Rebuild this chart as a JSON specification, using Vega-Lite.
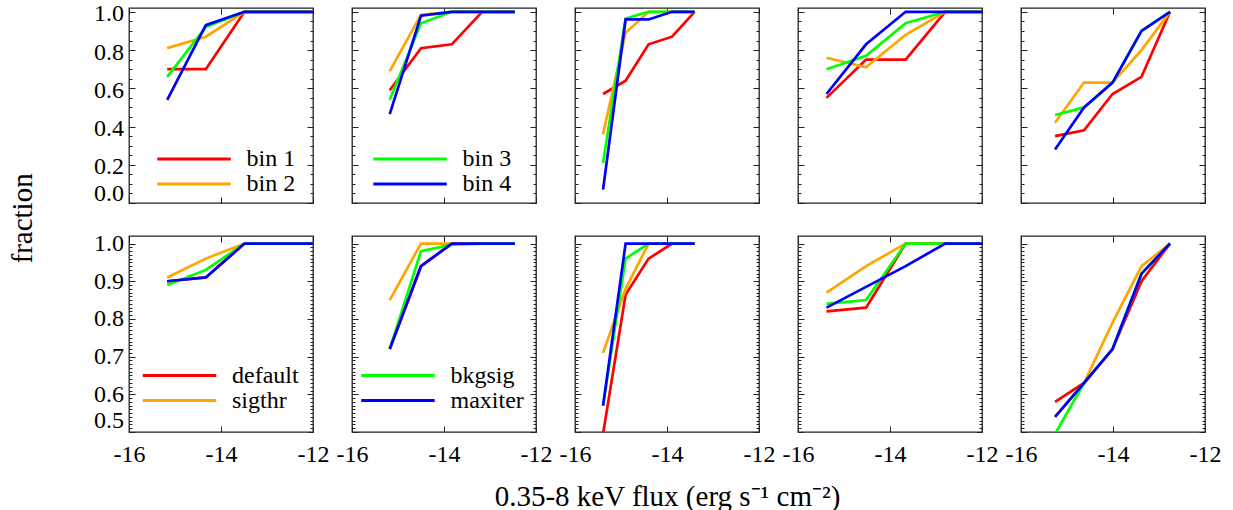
{
 "$schema": "https://vega.github.io/schema/vega-lite/v6.json",
 "background": "white",
 "padding": {"left": 8, "top": 1, "right": 5, "bottom": 0},
 "title": {"text": "fraction", "orient": "left", "anchor": "middle", "font": "Liberation Serif", "fontSize": 29, "fontWeight": "normal", "color": "black", "offset": 55, "dx": 38},
 "datasets": {"d": [
  {"p":1,"s":"bin 1","x":-15.17,"y":0.7},{"p":1,"s":"bin 1","x":-14.33,"y":0.7},{"p":1,"s":"bin 1","x":-13.49,"y":1},{"p":1,"s":"bin 1","x":-12.65,"y":1},{"p":1,"s":"bin 1","x":-11.81,"y":1},
  {"p":1,"s":"bin 2","x":-15.17,"y":0.81},{"p":1,"s":"bin 2","x":-14.33,"y":0.87},{"p":1,"s":"bin 2","x":-13.49,"y":1},{"p":1,"s":"bin 2","x":-12.65,"y":1},{"p":1,"s":"bin 2","x":-11.81,"y":1},
  {"p":1,"s":"bin 3","x":-15.17,"y":0.66},{"p":1,"s":"bin 3","x":-14.33,"y":0.92},{"p":1,"s":"bin 3","x":-13.49,"y":1},{"p":1,"s":"bin 3","x":-12.65,"y":1},{"p":1,"s":"bin 3","x":-11.81,"y":1},
  {"p":1,"s":"bin 4","x":-15.17,"y":0.54},{"p":1,"s":"bin 4","x":-14.33,"y":0.93},{"p":1,"s":"bin 4","x":-13.49,"y":1},{"p":1,"s":"bin 4","x":-12.65,"y":1},{"p":1,"s":"bin 4","x":-11.81,"y":1},

  {"p":2,"s":"bin 1","x":-15.18,"y":0.59},{"p":2,"s":"bin 1","x":-14.5,"y":0.81},{"p":2,"s":"bin 1","x":-13.83,"y":0.83},{"p":2,"s":"bin 1","x":-13.17,"y":1},{"p":2,"s":"bin 1","x":-12.46,"y":1},
  {"p":2,"s":"bin 2","x":-15.18,"y":0.69},{"p":2,"s":"bin 2","x":-14.5,"y":0.985},{"p":2,"s":"bin 2","x":-13.83,"y":1},{"p":2,"s":"bin 2","x":-13.17,"y":1},{"p":2,"s":"bin 2","x":-12.46,"y":1},
  {"p":2,"s":"bin 3","x":-15.18,"y":0.54},{"p":2,"s":"bin 3","x":-14.5,"y":0.94},{"p":2,"s":"bin 3","x":-13.83,"y":1},{"p":2,"s":"bin 3","x":-13.17,"y":1},{"p":2,"s":"bin 3","x":-12.46,"y":1},
  {"p":2,"s":"bin 4","x":-15.18,"y":0.465},{"p":2,"s":"bin 4","x":-14.5,"y":0.98},{"p":2,"s":"bin 4","x":-13.83,"y":1},{"p":2,"s":"bin 4","x":-13.17,"y":1},{"p":2,"s":"bin 4","x":-12.46,"y":1},

  {"p":3,"s":"bin 1","x":-15.39,"y":0.57},{"p":3,"s":"bin 1","x":-14.9,"y":0.64},{"p":3,"s":"bin 1","x":-14.4,"y":0.83},{"p":3,"s":"bin 1","x":-13.89,"y":0.87},{"p":3,"s":"bin 1","x":-13.4,"y":1},
  {"p":3,"s":"bin 2","x":-15.39,"y":0.36},{"p":3,"s":"bin 2","x":-14.9,"y":0.89},{"p":3,"s":"bin 2","x":-14.4,"y":1},{"p":3,"s":"bin 2","x":-13.89,"y":1},{"p":3,"s":"bin 2","x":-13.4,"y":1},
  {"p":3,"s":"bin 3","x":-15.39,"y":0.21},{"p":3,"s":"bin 3","x":-14.9,"y":0.965},{"p":3,"s":"bin 3","x":-14.4,"y":1},{"p":3,"s":"bin 3","x":-13.89,"y":1},{"p":3,"s":"bin 3","x":-13.4,"y":1},
  {"p":3,"s":"bin 4","x":-15.39,"y":0.07},{"p":3,"s":"bin 4","x":-14.9,"y":0.96},{"p":3,"s":"bin 4","x":-14.4,"y":0.96},{"p":3,"s":"bin 4","x":-13.89,"y":1},{"p":3,"s":"bin 4","x":-13.4,"y":1},

  {"p":4,"s":"bin 1","x":-15.38,"y":0.55},{"p":4,"s":"bin 1","x":-14.52,"y":0.75},{"p":4,"s":"bin 1","x":-13.66,"y":0.75},{"p":4,"s":"bin 1","x":-12.8,"y":1},{"p":4,"s":"bin 1","x":-11.94,"y":1},
  {"p":4,"s":"bin 2","x":-15.38,"y":0.76},{"p":4,"s":"bin 2","x":-14.52,"y":0.71},{"p":4,"s":"bin 2","x":-13.66,"y":0.88},{"p":4,"s":"bin 2","x":-12.8,"y":1},{"p":4,"s":"bin 2","x":-11.94,"y":1},
  {"p":4,"s":"bin 3","x":-15.38,"y":0.7},{"p":4,"s":"bin 3","x":-14.52,"y":0.77},{"p":4,"s":"bin 3","x":-13.66,"y":0.94},{"p":4,"s":"bin 3","x":-12.8,"y":1},{"p":4,"s":"bin 3","x":-11.94,"y":1},
  {"p":4,"s":"bin 4","x":-15.38,"y":0.57},{"p":4,"s":"bin 4","x":-14.52,"y":0.83},{"p":4,"s":"bin 4","x":-13.66,"y":1},{"p":4,"s":"bin 4","x":-12.8,"y":1},{"p":4,"s":"bin 4","x":-11.94,"y":1},

  {"p":5,"s":"bin 1","x":-15.26,"y":0.35},{"p":5,"s":"bin 1","x":-14.63,"y":0.38},{"p":5,"s":"bin 1","x":-14.01,"y":0.57},{"p":5,"s":"bin 1","x":-13.38,"y":0.66},{"p":5,"s":"bin 1","x":-12.76,"y":1},
  {"p":5,"s":"bin 2","x":-15.26,"y":0.42},{"p":5,"s":"bin 2","x":-14.63,"y":0.63},{"p":5,"s":"bin 2","x":-14.01,"y":0.63},{"p":5,"s":"bin 2","x":-13.38,"y":0.8},{"p":5,"s":"bin 2","x":-12.76,"y":1},
  {"p":5,"s":"bin 3","x":-15.26,"y":0.46},{"p":5,"s":"bin 3","x":-14.63,"y":0.5},{"p":5,"s":"bin 3","x":-14.01,"y":0.63},{"p":5,"s":"bin 3","x":-13.38,"y":0.9},{"p":5,"s":"bin 3","x":-12.76,"y":1},
  {"p":5,"s":"bin 4","x":-15.26,"y":0.28},{"p":5,"s":"bin 4","x":-14.63,"y":0.5},{"p":5,"s":"bin 4","x":-14.01,"y":0.63},{"p":5,"s":"bin 4","x":-13.38,"y":0.9},{"p":5,"s":"bin 4","x":-12.76,"y":1},

  {"p":6,"s":"default","x":-15.17,"y":0.9},{"p":6,"s":"default","x":-14.33,"y":0.91},{"p":6,"s":"default","x":-13.49,"y":1},{"p":6,"s":"default","x":-12.65,"y":1},{"p":6,"s":"default","x":-11.81,"y":1},
  {"p":6,"s":"sigthr","x":-15.17,"y":0.91},{"p":6,"s":"sigthr","x":-14.33,"y":0.96},{"p":6,"s":"sigthr","x":-13.49,"y":1},{"p":6,"s":"sigthr","x":-12.65,"y":1},{"p":6,"s":"sigthr","x":-11.81,"y":1},
  {"p":6,"s":"bkgsig","x":-15.17,"y":0.89},{"p":6,"s":"bkgsig","x":-14.33,"y":0.93},{"p":6,"s":"bkgsig","x":-13.49,"y":1},{"p":6,"s":"bkgsig","x":-12.65,"y":1},{"p":6,"s":"bkgsig","x":-11.81,"y":1},
  {"p":6,"s":"maxiter","x":-15.17,"y":0.9},{"p":6,"s":"maxiter","x":-14.33,"y":0.91},{"p":6,"s":"maxiter","x":-13.49,"y":1},{"p":6,"s":"maxiter","x":-12.65,"y":1},{"p":6,"s":"maxiter","x":-11.81,"y":1},

  {"p":7,"s":"default","x":-15.18,"y":0.72},{"p":7,"s":"default","x":-14.5,"y":0.94},{"p":7,"s":"default","x":-13.83,"y":1},{"p":7,"s":"default","x":-13.17,"y":1},{"p":7,"s":"default","x":-12.46,"y":1},
  {"p":7,"s":"sigthr","x":-15.18,"y":0.85},{"p":7,"s":"sigthr","x":-14.5,"y":1},{"p":7,"s":"sigthr","x":-13.83,"y":1},{"p":7,"s":"sigthr","x":-13.17,"y":1},{"p":7,"s":"sigthr","x":-12.46,"y":1},
  {"p":7,"s":"bkgsig","x":-15.18,"y":0.72},{"p":7,"s":"bkgsig","x":-14.5,"y":0.98},{"p":7,"s":"bkgsig","x":-13.83,"y":0.997},{"p":7,"s":"bkgsig","x":-13.17,"y":1},{"p":7,"s":"bkgsig","x":-12.46,"y":1},
  {"p":7,"s":"maxiter","x":-15.18,"y":0.72},{"p":7,"s":"maxiter","x":-14.5,"y":0.94},{"p":7,"s":"maxiter","x":-13.83,"y":1},{"p":7,"s":"maxiter","x":-13.17,"y":1},{"p":7,"s":"maxiter","x":-12.46,"y":1},

  {"p":8,"s":"default","x":-15.39,"y":0.495},{"p":8,"s":"default","x":-14.9,"y":0.865},{"p":8,"s":"default","x":-14.4,"y":0.96},{"p":8,"s":"default","x":-13.89,"y":1},{"p":8,"s":"default","x":-13.4,"y":1},
  {"p":8,"s":"sigthr","x":-15.39,"y":0.71},{"p":8,"s":"sigthr","x":-14.9,"y":0.88},{"p":8,"s":"sigthr","x":-14.4,"y":1},{"p":8,"s":"sigthr","x":-13.89,"y":1},{"p":8,"s":"sigthr","x":-13.4,"y":1},
  {"p":8,"s":"bkgsig","x":-15.39,"y":0.57},{"p":8,"s":"bkgsig","x":-14.9,"y":0.96},{"p":8,"s":"bkgsig","x":-14.4,"y":1},{"p":8,"s":"bkgsig","x":-13.89,"y":1},{"p":8,"s":"bkgsig","x":-13.4,"y":1},
  {"p":8,"s":"maxiter","x":-15.39,"y":0.57},{"p":8,"s":"maxiter","x":-14.9,"y":1},{"p":8,"s":"maxiter","x":-14.4,"y":1},{"p":8,"s":"maxiter","x":-13.89,"y":1},{"p":8,"s":"maxiter","x":-13.4,"y":1},

  {"p":9,"s":"default","x":-15.38,"y":0.82},{"p":9,"s":"default","x":-14.52,"y":0.83},{"p":9,"s":"default","x":-13.66,"y":1},{"p":9,"s":"default","x":-12.8,"y":1},{"p":9,"s":"default","x":-11.94,"y":1},
  {"p":9,"s":"sigthr","x":-15.38,"y":0.87},{"p":9,"s":"sigthr","x":-14.52,"y":0.94},{"p":9,"s":"sigthr","x":-13.66,"y":1},{"p":9,"s":"sigthr","x":-12.8,"y":1},{"p":9,"s":"sigthr","x":-11.94,"y":1},
  {"p":9,"s":"bkgsig","x":-15.38,"y":0.84},{"p":9,"s":"bkgsig","x":-14.52,"y":0.85},{"p":9,"s":"bkgsig","x":-13.66,"y":1},{"p":9,"s":"bkgsig","x":-12.8,"y":1},{"p":9,"s":"bkgsig","x":-11.94,"y":1},
  {"p":9,"s":"maxiter","x":-15.38,"y":0.83},{"p":9,"s":"maxiter","x":-14.52,"y":0.885},{"p":9,"s":"maxiter","x":-13.66,"y":0.94},{"p":9,"s":"maxiter","x":-12.8,"y":1},{"p":9,"s":"maxiter","x":-11.94,"y":1},

  {"p":10,"s":"default","x":-15.26,"y":0.58},{"p":10,"s":"default","x":-14.63,"y":0.63},{"p":10,"s":"default","x":-14.01,"y":0.72},{"p":10,"s":"default","x":-13.38,"y":0.9},{"p":10,"s":"default","x":-12.76,"y":1},
  {"p":10,"s":"sigthr","x":-15.26,"y":0.54},{"p":10,"s":"sigthr","x":-14.63,"y":0.63},{"p":10,"s":"sigthr","x":-14.01,"y":0.79},{"p":10,"s":"sigthr","x":-13.38,"y":0.94},{"p":10,"s":"sigthr","x":-12.76,"y":1},
  {"p":10,"s":"bkgsig","x":-15.26,"y":0.495},{"p":10,"s":"bkgsig","x":-14.63,"y":0.63},{"p":10,"s":"bkgsig","x":-14.01,"y":0.72},{"p":10,"s":"bkgsig","x":-13.38,"y":0.92},{"p":10,"s":"bkgsig","x":-12.76,"y":1},
  {"p":10,"s":"maxiter","x":-15.26,"y":0.54},{"p":10,"s":"maxiter","x":-14.63,"y":0.63},{"p":10,"s":"maxiter","x":-14.01,"y":0.72},{"p":10,"s":"maxiter","x":-13.38,"y":0.92},{"p":10,"s":"maxiter","x":-12.76,"y":1}
 ]},
 "data": {"name": "d"},
 "config": {
  "font": "Liberation Serif",
  "view": {"stroke": "#222", "strokeWidth": 1.3},
  "axis": {"domain": false, "grid": false, "tickColor": "#222", "tickWidth": 1, "labelFont": "Liberation Serif", "labelFontSize": 24, "labelColor": "black", "labelFlush": false, "labelOverlap": false, "titleFont": "Liberation Serif", "titleFontSize": 29, "titleFontWeight": "normal", "titleColor": "black"},
  "legend": {"title": null, "orient": "none", "symbolType": "stroke", "symbolSize": 5402, "symbolStrokeWidth": 3, "labelFont": "Liberation Serif", "labelFontSize": 24, "labelColor": "black", "labelOffset": 14, "rowPadding": 0, "padding": 0, "clipHeight": 25}
 },
 "spacing": 21,
 "resolve": {"legend": {"color": "independent"}},
 "vconcat": [
  {"spacing": 39, "bounds": "flush", "resolve": {"legend": {"color": "independent"}}, "hconcat": [
   {"width":184,"height":195,"transform":[{"filter":"datum.p==1"}],
    "layer":[
     {"mark":{"type":"line","clip":true,"strokeWidth":2.7},
      "encoding":{
       "x":{"field":"x","type":"quantitative","scale":{"domain":[-16,-12],"nice":false,"zero":false},"axis":{"values":[-16,-14,-12],"tickSize":-6,"labels":false,"title":null}},
       "y":{"field":"y","type":"quantitative","scale":{"domain":[0,1.02],"nice":false,"zero":false},"axis":{"values":[0,0.05,0.1,0.15,0.2,0.25,0.3,0.35,0.4,0.45,0.5,0.55,0.6,0.65,0.7,0.75,0.8,0.85,0.9,0.95,1],"tickSize":{"condition":{"test":"abs(datum.value*5-round(datum.value*5))<0.001","value":-6},"value":-3},"labelExpr":"abs(datum.value*5-round(datum.value*5))<0.001 ? format(datum.value,'.1f') : ''","labelPadding":11.5,"labelFlush":true,"labelOffset":2,"title":null}},
       "color":{"field":"s","type":"nominal","scale":{"domain":["bin 1","bin 2","bin 3","bin 4","default","sigthr","bkgsig","maxiter"],"range":["#ff0000","#ffa500","#00ff00","#0000ff","#ff0000","#ffa500","#00ff00","#0000ff"]},"legend":{"values":["bin 1","bin 2"],"legendX":26.5,"legendY":138.5}}}},
     {"mark":{"type":"point","opacity":0},
      "encoding":{
       "x":{"field":"x","type":"quantitative","scale":{"domain":[-16,-12],"nice":false,"zero":false},"axis":{"orient":"top","values":[-16,-14,-12],"tickSize":-6,"labels":false,"title":null}},
       "y":{"field":"y","type":"quantitative","scale":{"domain":[0,1.02],"nice":false,"zero":false},"axis":{"orient":"right","values":[0,0.05,0.1,0.15,0.2,0.25,0.3,0.35,0.4,0.45,0.5,0.55,0.6,0.65,0.7,0.75,0.8,0.85,0.9,0.95,1],"tickSize":{"condition":{"test":"abs(datum.value*5-round(datum.value*5))<0.001","value":-6},"value":-3},"labels":false,"title":null}}}}
    ],
    "resolve":{"scale":{"x":"independent","y":"independent"}}},
   {"width":184,"height":195,"transform":[{"filter":"datum.p==2"}],
    "layer":[
     {"mark":{"type":"line","clip":true,"strokeWidth":2.7},
      "encoding":{
       "x":{"field":"x","type":"quantitative","scale":{"domain":[-16,-12],"nice":false,"zero":false},"axis":{"values":[-16,-14,-12],"tickSize":-6,"labels":false,"title":null}},
       "y":{"field":"y","type":"quantitative","scale":{"domain":[0,1.02],"nice":false,"zero":false},"axis":{"values":[0,0.05,0.1,0.15,0.2,0.25,0.3,0.35,0.4,0.45,0.5,0.55,0.6,0.65,0.7,0.75,0.8,0.85,0.9,0.95,1],"tickSize":{"condition":{"test":"abs(datum.value*5-round(datum.value*5))<0.001","value":-6},"value":-3},"labels":false,"title":null}},
       "color":{"field":"s","type":"nominal","legend":{"values":["bin 3","bin 4"],"legendX":19.5,"legendY":138.5}}}},
     {"mark":{"type":"point","opacity":0},
      "encoding":{
       "x":{"field":"x","type":"quantitative","scale":{"domain":[-16,-12],"nice":false,"zero":false},"axis":{"orient":"top","values":[-16,-14,-12],"tickSize":-6,"labels":false,"title":null}},
       "y":{"field":"y","type":"quantitative","scale":{"domain":[0,1.02],"nice":false,"zero":false},"axis":{"orient":"right","values":[0,0.05,0.1,0.15,0.2,0.25,0.3,0.35,0.4,0.45,0.5,0.55,0.6,0.65,0.7,0.75,0.8,0.85,0.9,0.95,1],"tickSize":{"condition":{"test":"abs(datum.value*5-round(datum.value*5))<0.001","value":-6},"value":-3},"labels":false,"title":null}}}}
    ],
    "resolve":{"scale":{"x":"independent","y":"independent"}}},
   {"width":184,"height":195,"transform":[{"filter":"datum.p==3"}],
    "layer":[
     {"mark":{"type":"line","clip":true,"strokeWidth":2.7},
      "encoding":{
       "x":{"field":"x","type":"quantitative","scale":{"domain":[-16,-12],"nice":false,"zero":false},"axis":{"values":[-16,-14,-12],"tickSize":-6,"labels":false,"title":null}},
       "y":{"field":"y","type":"quantitative","scale":{"domain":[0,1.02],"nice":false,"zero":false},"axis":{"values":[0,0.05,0.1,0.15,0.2,0.25,0.3,0.35,0.4,0.45,0.5,0.55,0.6,0.65,0.7,0.75,0.8,0.85,0.9,0.95,1],"tickSize":{"condition":{"test":"abs(datum.value*5-round(datum.value*5))<0.001","value":-6},"value":-3},"labels":false,"title":null}},
       "color":{"field":"s","type":"nominal","legend":null}}},
     {"mark":{"type":"point","opacity":0},
      "encoding":{
       "x":{"field":"x","type":"quantitative","scale":{"domain":[-16,-12],"nice":false,"zero":false},"axis":{"orient":"top","values":[-16,-14,-12],"tickSize":-6,"labels":false,"title":null}},
       "y":{"field":"y","type":"quantitative","scale":{"domain":[0,1.02],"nice":false,"zero":false},"axis":{"orient":"right","values":[0,0.05,0.1,0.15,0.2,0.25,0.3,0.35,0.4,0.45,0.5,0.55,0.6,0.65,0.7,0.75,0.8,0.85,0.9,0.95,1],"tickSize":{"condition":{"test":"abs(datum.value*5-round(datum.value*5))<0.001","value":-6},"value":-3},"labels":false,"title":null}}}}
    ],
    "resolve":{"scale":{"x":"independent","y":"independent"}}},
   {"width":184,"height":195,"transform":[{"filter":"datum.p==4"}],
    "layer":[
     {"mark":{"type":"line","clip":true,"strokeWidth":2.7},
      "encoding":{
       "x":{"field":"x","type":"quantitative","scale":{"domain":[-16,-12],"nice":false,"zero":false},"axis":{"values":[-16,-14,-12],"tickSize":-6,"labels":false,"title":null}},
       "y":{"field":"y","type":"quantitative","scale":{"domain":[0,1.02],"nice":false,"zero":false},"axis":{"values":[0,0.05,0.1,0.15,0.2,0.25,0.3,0.35,0.4,0.45,0.5,0.55,0.6,0.65,0.7,0.75,0.8,0.85,0.9,0.95,1],"tickSize":{"condition":{"test":"abs(datum.value*5-round(datum.value*5))<0.001","value":-6},"value":-3},"labels":false,"title":null}},
       "color":{"field":"s","type":"nominal","legend":null}}},
     {"mark":{"type":"point","opacity":0},
      "encoding":{
       "x":{"field":"x","type":"quantitative","scale":{"domain":[-16,-12],"nice":false,"zero":false},"axis":{"orient":"top","values":[-16,-14,-12],"tickSize":-6,"labels":false,"title":null}},
       "y":{"field":"y","type":"quantitative","scale":{"domain":[0,1.02],"nice":false,"zero":false},"axis":{"orient":"right","values":[0,0.05,0.1,0.15,0.2,0.25,0.3,0.35,0.4,0.45,0.5,0.55,0.6,0.65,0.7,0.75,0.8,0.85,0.9,0.95,1],"tickSize":{"condition":{"test":"abs(datum.value*5-round(datum.value*5))<0.001","value":-6},"value":-3},"labels":false,"title":null}}}}
    ],
    "resolve":{"scale":{"x":"independent","y":"independent"}}},
   {"width":184,"height":195,"transform":[{"filter":"datum.p==5"}],
    "layer":[
     {"mark":{"type":"line","clip":true,"strokeWidth":2.7},
      "encoding":{
       "x":{"field":"x","type":"quantitative","scale":{"domain":[-16,-12],"nice":false,"zero":false},"axis":{"values":[-16,-14,-12],"tickSize":-6,"labels":false,"title":null}},
       "y":{"field":"y","type":"quantitative","scale":{"domain":[0,1.02],"nice":false,"zero":false},"axis":{"values":[0,0.05,0.1,0.15,0.2,0.25,0.3,0.35,0.4,0.45,0.5,0.55,0.6,0.65,0.7,0.75,0.8,0.85,0.9,0.95,1],"tickSize":{"condition":{"test":"abs(datum.value*5-round(datum.value*5))<0.001","value":-6},"value":-3},"labels":false,"title":null}},
       "color":{"field":"s","type":"nominal","legend":null}}},
     {"mark":{"type":"point","opacity":0},
      "encoding":{
       "x":{"field":"x","type":"quantitative","scale":{"domain":[-16,-12],"nice":false,"zero":false},"axis":{"orient":"top","values":[-16,-14,-12],"tickSize":-6,"labels":false,"title":null}},
       "y":{"field":"y","type":"quantitative","scale":{"domain":[0,1.02],"nice":false,"zero":false},"axis":{"orient":"right","values":[0,0.05,0.1,0.15,0.2,0.25,0.3,0.35,0.4,0.45,0.5,0.55,0.6,0.65,0.7,0.75,0.8,0.85,0.9,0.95,1],"tickSize":{"condition":{"test":"abs(datum.value*5-round(datum.value*5))<0.001","value":-6},"value":-3},"labels":false,"title":null}}}}
    ],
    "resolve":{"scale":{"x":"independent","y":"independent"}}}
  ]},
  {"spacing": 39, "bounds": "flush", "resolve": {"legend": {"color": "independent"}}, "hconcat": [
   {"width":184,"height":196,"transform":[{"filter":"datum.p==6"}],
    "layer":[
     {"mark":{"type":"line","clip":true,"strokeWidth":2.7},
      "encoding":{
       "x":{"field":"x","type":"quantitative","scale":{"domain":[-16,-12],"nice":false,"zero":false},"axis":{"values":[-16,-14,-12],"tickSize":-6,"labelPadding":16,"labelExpr":"'-' + abs(datum.value)","title":null}},
       "y":{"field":"y","type":"quantitative","scale":{"domain":[0.5,1.02],"nice":false,"zero":false},"axis":{"values":[0.5,0.51,0.52,0.53,0.54,0.55,0.56,0.57,0.58,0.59,0.6,0.61,0.62,0.63,0.64,0.65,0.66,0.67,0.68,0.69,0.7,0.71,0.72,0.73,0.74,0.75,0.76,0.77,0.78,0.79,0.8,0.81,0.82,0.83,0.84,0.85,0.86,0.87,0.88,0.89,0.9,0.91,0.92,0.93,0.94,0.95,0.96,0.97,0.98,0.99,1],"tickSize":{"condition":{"test":"abs(datum.value*10-round(datum.value*10))<0.001","value":-6},"value":-3},"labelExpr":"abs(datum.value*10-round(datum.value*10))<0.001 ? format(datum.value,'.1f') : ''","labelPadding":11.5,"labelFlush":true,"title":null}},
       "color":{"field":"s","type":"nominal","legend":{"values":["default","sigthr"],"legendX":12,"legendY":127}}}},
     {"mark":{"type":"point","opacity":0},
      "encoding":{
       "x":{"field":"x","type":"quantitative","scale":{"domain":[-16,-12],"nice":false,"zero":false},"axis":{"orient":"top","values":[-16,-14,-12],"tickSize":-6,"labels":false,"title":null}},
       "y":{"field":"y","type":"quantitative","scale":{"domain":[0.5,1.02],"nice":false,"zero":false},"axis":{"orient":"right","values":[0.5,0.51,0.52,0.53,0.54,0.55,0.56,0.57,0.58,0.59,0.6,0.61,0.62,0.63,0.64,0.65,0.66,0.67,0.68,0.69,0.7,0.71,0.72,0.73,0.74,0.75,0.76,0.77,0.78,0.79,0.8,0.81,0.82,0.83,0.84,0.85,0.86,0.87,0.88,0.89,0.9,0.91,0.92,0.93,0.94,0.95,0.96,0.97,0.98,0.99,1],"tickSize":{"condition":{"test":"abs(datum.value*10-round(datum.value*10))<0.001","value":-6},"value":-3},"labels":false,"title":null}}}}
    ],
    "resolve":{"scale":{"x":"independent","y":"independent"}}},
   {"width":184,"height":196,"transform":[{"filter":"datum.p==7"}],
    "layer":[
     {"mark":{"type":"line","clip":true,"strokeWidth":2.7},
      "encoding":{
       "x":{"field":"x","type":"quantitative","scale":{"domain":[-16,-12],"nice":false,"zero":false},"axis":{"values":[-16,-14,-12],"tickSize":-6,"labelPadding":16,"labelExpr":"'-' + abs(datum.value)","title":null}},
       "y":{"field":"y","type":"quantitative","scale":{"domain":[0.5,1.02],"nice":false,"zero":false},"axis":{"values":[0.5,0.51,0.52,0.53,0.54,0.55,0.56,0.57,0.58,0.59,0.6,0.61,0.62,0.63,0.64,0.65,0.66,0.67,0.68,0.69,0.7,0.71,0.72,0.73,0.74,0.75,0.76,0.77,0.78,0.79,0.8,0.81,0.82,0.83,0.84,0.85,0.86,0.87,0.88,0.89,0.9,0.91,0.92,0.93,0.94,0.95,0.96,0.97,0.98,0.99,1],"tickSize":{"condition":{"test":"abs(datum.value*10-round(datum.value*10))<0.001","value":-6},"value":-3},"labels":false,"title":null}},
       "color":{"field":"s","type":"nominal","legend":{"values":["bkgsig","maxiter"],"legendX":7.5,"legendY":127}}}},
     {"mark":{"type":"point","opacity":0},
      "encoding":{
       "x":{"field":"x","type":"quantitative","scale":{"domain":[-16,-12],"nice":false,"zero":false},"axis":{"orient":"top","values":[-16,-14,-12],"tickSize":-6,"labels":false,"title":null}},
       "y":{"field":"y","type":"quantitative","scale":{"domain":[0.5,1.02],"nice":false,"zero":false},"axis":{"orient":"right","values":[0.5,0.51,0.52,0.53,0.54,0.55,0.56,0.57,0.58,0.59,0.6,0.61,0.62,0.63,0.64,0.65,0.66,0.67,0.68,0.69,0.7,0.71,0.72,0.73,0.74,0.75,0.76,0.77,0.78,0.79,0.8,0.81,0.82,0.83,0.84,0.85,0.86,0.87,0.88,0.89,0.9,0.91,0.92,0.93,0.94,0.95,0.96,0.97,0.98,0.99,1],"tickSize":{"condition":{"test":"abs(datum.value*10-round(datum.value*10))<0.001","value":-6},"value":-3},"labels":false,"title":null}}}}
    ],
    "resolve":{"scale":{"x":"independent","y":"independent"}}},
   {"width":184,"height":196,"transform":[{"filter":"datum.p==8"}],
    "layer":[
     {"mark":{"type":"line","clip":true,"strokeWidth":2.7},
      "encoding":{
       "x":{"field":"x","type":"quantitative","scale":{"domain":[-16,-12],"nice":false,"zero":false},"axis":{"values":[-16,-14,-12],"tickSize":-6,"labelPadding":16,"labelExpr":"'-' + abs(datum.value)","title":"0.35-8 keV flux (erg s⁻¹ cm⁻²)","titleY":64,"titleBaseline":"middle"}},
       "y":{"field":"y","type":"quantitative","scale":{"domain":[0.5,1.02],"nice":false,"zero":false},"axis":{"values":[0.5,0.51,0.52,0.53,0.54,0.55,0.56,0.57,0.58,0.59,0.6,0.61,0.62,0.63,0.64,0.65,0.66,0.67,0.68,0.69,0.7,0.71,0.72,0.73,0.74,0.75,0.76,0.77,0.78,0.79,0.8,0.81,0.82,0.83,0.84,0.85,0.86,0.87,0.88,0.89,0.9,0.91,0.92,0.93,0.94,0.95,0.96,0.97,0.98,0.99,1],"tickSize":{"condition":{"test":"abs(datum.value*10-round(datum.value*10))<0.001","value":-6},"value":-3},"labels":false,"title":null}},
       "color":{"field":"s","type":"nominal","legend":null}}},
     {"mark":{"type":"point","opacity":0},
      "encoding":{
       "x":{"field":"x","type":"quantitative","scale":{"domain":[-16,-12],"nice":false,"zero":false},"axis":{"orient":"top","values":[-16,-14,-12],"tickSize":-6,"labels":false,"title":null}},
       "y":{"field":"y","type":"quantitative","scale":{"domain":[0.5,1.02],"nice":false,"zero":false},"axis":{"orient":"right","values":[0.5,0.51,0.52,0.53,0.54,0.55,0.56,0.57,0.58,0.59,0.6,0.61,0.62,0.63,0.64,0.65,0.66,0.67,0.68,0.69,0.7,0.71,0.72,0.73,0.74,0.75,0.76,0.77,0.78,0.79,0.8,0.81,0.82,0.83,0.84,0.85,0.86,0.87,0.88,0.89,0.9,0.91,0.92,0.93,0.94,0.95,0.96,0.97,0.98,0.99,1],"tickSize":{"condition":{"test":"abs(datum.value*10-round(datum.value*10))<0.001","value":-6},"value":-3},"labels":false,"title":null}}}}
    ],
    "resolve":{"scale":{"x":"independent","y":"independent"}}},
   {"width":184,"height":196,"transform":[{"filter":"datum.p==9"}],
    "layer":[
     {"mark":{"type":"line","clip":true,"strokeWidth":2.7},
      "encoding":{
       "x":{"field":"x","type":"quantitative","scale":{"domain":[-16,-12],"nice":false,"zero":false},"axis":{"values":[-16,-14,-12],"tickSize":-6,"labelPadding":16,"labelExpr":"'-' + abs(datum.value)","title":null}},
       "y":{"field":"y","type":"quantitative","scale":{"domain":[0.5,1.02],"nice":false,"zero":false},"axis":{"values":[0.5,0.51,0.52,0.53,0.54,0.55,0.56,0.57,0.58,0.59,0.6,0.61,0.62,0.63,0.64,0.65,0.66,0.67,0.68,0.69,0.7,0.71,0.72,0.73,0.74,0.75,0.76,0.77,0.78,0.79,0.8,0.81,0.82,0.83,0.84,0.85,0.86,0.87,0.88,0.89,0.9,0.91,0.92,0.93,0.94,0.95,0.96,0.97,0.98,0.99,1],"tickSize":{"condition":{"test":"abs(datum.value*10-round(datum.value*10))<0.001","value":-6},"value":-3},"labels":false,"title":null}},
       "color":{"field":"s","type":"nominal","legend":null}}},
     {"mark":{"type":"point","opacity":0},
      "encoding":{
       "x":{"field":"x","type":"quantitative","scale":{"domain":[-16,-12],"nice":false,"zero":false},"axis":{"orient":"top","values":[-16,-14,-12],"tickSize":-6,"labels":false,"title":null}},
       "y":{"field":"y","type":"quantitative","scale":{"domain":[0.5,1.02],"nice":false,"zero":false},"axis":{"orient":"right","values":[0.5,0.51,0.52,0.53,0.54,0.55,0.56,0.57,0.58,0.59,0.6,0.61,0.62,0.63,0.64,0.65,0.66,0.67,0.68,0.69,0.7,0.71,0.72,0.73,0.74,0.75,0.76,0.77,0.78,0.79,0.8,0.81,0.82,0.83,0.84,0.85,0.86,0.87,0.88,0.89,0.9,0.91,0.92,0.93,0.94,0.95,0.96,0.97,0.98,0.99,1],"tickSize":{"condition":{"test":"abs(datum.value*10-round(datum.value*10))<0.001","value":-6},"value":-3},"labels":false,"title":null}}}}
    ],
    "resolve":{"scale":{"x":"independent","y":"independent"}}},
   {"width":184,"height":196,"transform":[{"filter":"datum.p==10"}],
    "layer":[
     {"mark":{"type":"line","clip":true,"strokeWidth":2.7},
      "encoding":{
       "x":{"field":"x","type":"quantitative","scale":{"domain":[-16,-12],"nice":false,"zero":false},"axis":{"values":[-16,-14,-12],"tickSize":-6,"labelPadding":16,"labelExpr":"'-' + abs(datum.value)","title":null}},
       "y":{"field":"y","type":"quantitative","scale":{"domain":[0.5,1.02],"nice":false,"zero":false},"axis":{"values":[0.5,0.51,0.52,0.53,0.54,0.55,0.56,0.57,0.58,0.59,0.6,0.61,0.62,0.63,0.64,0.65,0.66,0.67,0.68,0.69,0.7,0.71,0.72,0.73,0.74,0.75,0.76,0.77,0.78,0.79,0.8,0.81,0.82,0.83,0.84,0.85,0.86,0.87,0.88,0.89,0.9,0.91,0.92,0.93,0.94,0.95,0.96,0.97,0.98,0.99,1],"tickSize":{"condition":{"test":"abs(datum.value*10-round(datum.value*10))<0.001","value":-6},"value":-3},"labels":false,"title":null}},
       "color":{"field":"s","type":"nominal","legend":null}}},
     {"mark":{"type":"point","opacity":0},
      "encoding":{
       "x":{"field":"x","type":"quantitative","scale":{"domain":[-16,-12],"nice":false,"zero":false},"axis":{"orient":"top","values":[-16,-14,-12],"tickSize":-6,"labels":false,"title":null}},
       "y":{"field":"y","type":"quantitative","scale":{"domain":[0.5,1.02],"nice":false,"zero":false},"axis":{"orient":"right","values":[0.5,0.51,0.52,0.53,0.54,0.55,0.56,0.57,0.58,0.59,0.6,0.61,0.62,0.63,0.64,0.65,0.66,0.67,0.68,0.69,0.7,0.71,0.72,0.73,0.74,0.75,0.76,0.77,0.78,0.79,0.8,0.81,0.82,0.83,0.84,0.85,0.86,0.87,0.88,0.89,0.9,0.91,0.92,0.93,0.94,0.95,0.96,0.97,0.98,0.99,1],"tickSize":{"condition":{"test":"abs(datum.value*10-round(datum.value*10))<0.001","value":-6},"value":-3},"labels":false,"title":null}}}}
    ],
    "resolve":{"scale":{"x":"independent","y":"independent"}}}
  ]}
 ]
}
